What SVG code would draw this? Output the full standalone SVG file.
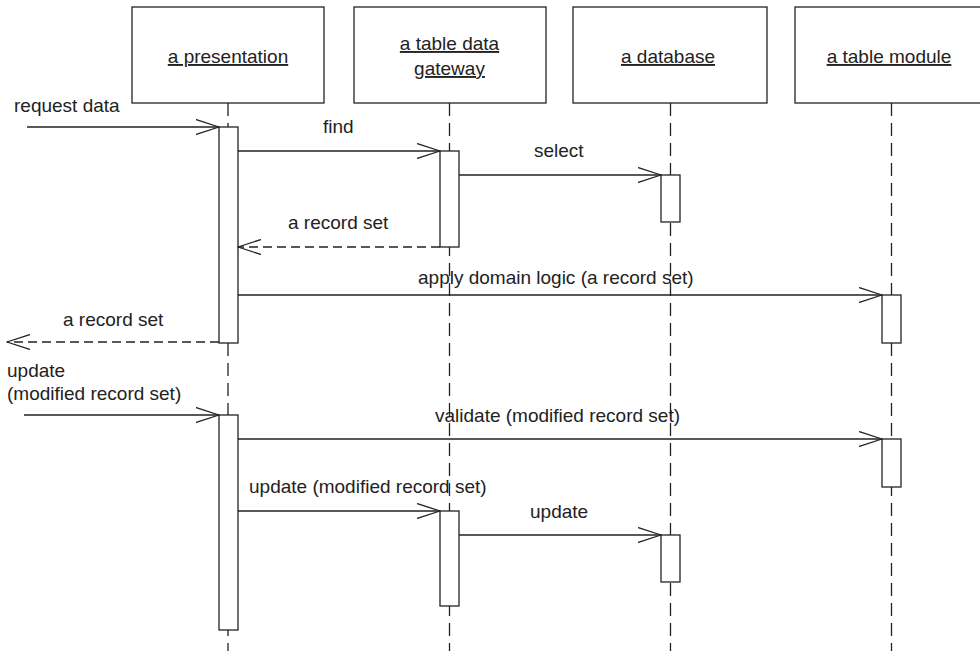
<svg xmlns="http://www.w3.org/2000/svg" width="980" height="651" viewBox="0 0 980 651">
<defs>
<marker id="open" viewBox="0 0 24 16" refX="23" refY="8" markerWidth="24" markerHeight="16" markerUnits="userSpaceOnUse" orient="auto">
<path d="M0,0.5 L23,8 L0,15.5" fill="none" stroke="#222" stroke-width="1.3"/>
</marker>
</defs>
<style>
text{font-family:"Liberation Sans",Arial,sans-serif;font-size:19px;fill:#222}
.obj{fill:#fff;stroke:#222;stroke-width:1.3}
.life{stroke:#222;stroke-width:1.3;stroke-dasharray:13 7;fill:none}
.act{fill:#fff;stroke:#222;stroke-width:1.3}
.msg{stroke:#222;stroke-width:1.3;fill:none;marker-end:url(#open)}
.ret{stroke:#222;stroke-width:1.3;fill:none;stroke-dasharray:9 5;marker-end:url(#open)}
.u{text-decoration:underline}
</style>
<rect width="980" height="651" fill="#fff"/>
<g id="lifelines">
<path class="life" d="M228,103 V651"/>
<path class="life" d="M449.5,103 V651"/>
<path class="life" d="M670.5,103 V651"/>
<path class="life" d="M891.5,103 V651"/>
</g>
<g id="presentation">
<rect class="obj" x="132" y="7" width="192" height="96"/>
<text class="u" x="228" y="63" text-anchor="middle">a presentation</text>
<rect class="act" x="219" y="127" width="19" height="216"/>
<rect class="act" x="219" y="415" width="19" height="215"/>
</g>
<g id="gateway">
<rect class="obj" x="354" y="7" width="192" height="96"/>
<text class="u" x="449.5" y="50" text-anchor="middle">a table data</text>
<text class="u" x="449.5" y="75" text-anchor="middle">gateway</text>
<rect class="act" x="440" y="151" width="19" height="96"/>
<rect class="act" x="440" y="511" width="19" height="95"/>
</g>
<g id="database">
<rect class="obj" x="573" y="7" width="194" height="96"/>
<text class="u" x="668" y="63" text-anchor="middle">a database</text>
<rect class="act" x="661" y="175" width="19" height="47"/>
<rect class="act" x="661" y="535" width="19" height="47"/>
</g>
<g id="tablemodule">
<rect class="obj" x="795" y="7" width="194" height="96"/>
<text class="u" x="889" y="63" text-anchor="middle">a table module</text>
<rect class="act" x="882" y="295" width="19" height="48"/>
<rect class="act" x="882" y="439" width="19" height="48"/>
</g>
<g id="connectors">
<path class="msg" d="M27,127 H219"/>
<text x="14" y="112">request data</text>
<path class="msg" d="M238,151 H440"/>
<text x="323" y="133">find</text>
<path class="msg" d="M459,175 H661"/>
<text x="534" y="157">select</text>
<path class="ret" d="M440,247 H238"/>
<text x="288" y="229">a record set</text>
<path class="msg" d="M238,295 H882"/>
<text x="418" y="284">apply domain logic (a record set)</text>
<path class="ret" d="M219,342 H7"/>
<text x="63" y="326">a record set</text>
<path class="msg" d="M24,415 H219"/>
<text x="7" y="377">update</text>
<text x="7" y="400">(modified record set)</text>
<path class="msg" d="M238,439 H882"/>
<text x="435" y="422">validate (modified record set)</text>
<path class="msg" d="M238,511 H440"/>
<text x="249" y="493">update (modified record set)</text>
<path class="msg" d="M459,535 H661"/>
<text x="530" y="518">update</text>
</g>
</svg>
